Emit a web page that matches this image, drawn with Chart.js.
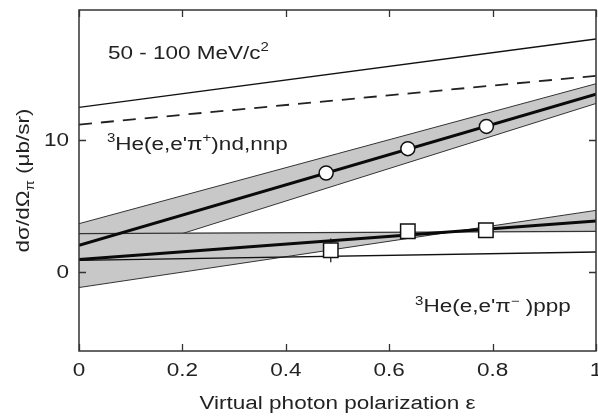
<!DOCTYPE html>
<html>
<head>
<meta charset="utf-8">
<script src="https://cdn.jsdelivr.net/npm/chart.js@4/dist/chart.umd.min.js"></script>
<style>
html,body{margin:0;padding:0;background:#fff;}
canvas{display:block;}
</style>
</head>
<body>
<canvas id="c" width="598" height="417"></canvas>
<script>
// ---- data ----
const lineX = [0, 1];
const topSolid = [12.5, 17.7];
const dashedLine = [11.2, 14.9];
const piPlusFit = [2.03, 13.5];
const piPlusUpper = [3.67, 14.3];
const piPlusLower = [0.45, 12.8];
const piMinusFit = [0.94, 3.87];
const piMinusThin = [0.89, 1.52];
const piMinusEdgeA = [2.92, 3.09];
const piMinusEdgeB = [-1.18, 4.68];
const piPlusX = [0.478, 0.636, 0.788];
const piPlusY = [7.52, 9.37, 11.06];
const piMinusX = [0.487, 0.636, 0.787];
const piMinusY = [1.65, 3.09, 3.17];
const piMinusErr = [0.9, 0.4, 0.4];
const xTicks = [0, 0.2, 0.4, 0.6, 0.8, 1];
const xTickLabels = ['0', '0.2', '0.4', '0.6', '0.8', '1'];
const yTicks = [0, 10];
const yTickLabels = ['0', '10'];
const xTitle = 'Virtual photon polarization \u03b5';
const label1 = [{t:'50 - 100 MeV/c'}, {t:'2', sup:true}];
const label2 = [{t:'3', sup:true}, {t:'He(e,e\'\u03c0'}, {t:'+', sup:true}, {t:')nd,nnp'}];
const label3 = [{t:'3', sup:true}, {t:'He(e,e\'\u03c0'}, {t:'\u2212', sup:true}, {t:' )ppp'}];
const yTitle = [{t:'d\u03c3/d\u03a9'}, {t:'\u03c0', sub:true}, {t:' (\u03bcb/sr)'}];
const labelPos = [[0.056, 16.2], [0.054, 9.3], [0.65, -3.06]];

const pts = (xs, ys) => xs.map((x, i) => ({x, y: ys[i]}));
const FONT = '"Liberation Sans", Arial, Helvetica, sans-serif';
const SX = 1.25;
const INK = '#222';

function lineDs(ys, opts) {
  return Object.assign({
    data: pts(lineX, ys), borderColor: '#111', borderWidth: 1.2,
    pointRadius: 0, fill: false, tension: 0
  }, opts);
}

const errData = [];
piMinusX.forEach((x, i) => {
  errData.push({x, y: piMinusY[i] - piMinusErr[i]});
  errData.push({x, y: piMinusY[i] + piMinusErr[i]});
  errData.push({x: NaN, y: NaN});
});

const datasets = [
  lineDs(piPlusUpper, {order: 10, borderColor: '#333', borderWidth: 1, fill: {target: 1}, backgroundColor: '#c8c8c8'}), // 0
  lineDs(piPlusLower, {order: 9, borderColor: '#333', borderWidth: 1}), // 1
  lineDs(piMinusEdgeA, {order: 8, borderColor: '#333', borderWidth: 1.2, fill: {target: 3}, backgroundColor: '#c8c8c8'}), // 2
  lineDs(piMinusEdgeB, {order: 7, borderColor: '#333', borderWidth: 1}), // 3
  lineDs(piMinusThin, {order: 3, borderColor: '#111', borderWidth: 1.3}),
  lineDs(piMinusFit, {order: 2, borderColor: '#0a0a0a', borderWidth: 3}),
  lineDs(piPlusFit, {order: 2, borderColor: '#0a0a0a', borderWidth: 3}),
  lineDs(topSolid, {order: 2, borderColor: '#111', borderWidth: 1.4}),
  lineDs(dashedLine, {order: 2, borderColor: '#222', borderWidth: 1.8, borderDash: [13, 9]}),
  {data: errData, order: 1, borderColor: '#111', borderWidth: 1.2, pointRadius: 0, spanGaps: false, fill: false},
  {data: pts(piPlusX, piPlusY), order: 0, showLine: false, pointStyle: 'circle', pointRadius: 7,
   pointBackgroundColor: '#fff', pointBorderColor: '#111', pointBorderWidth: 1.5},
  {data: pts(piMinusX, piMinusY), order: 0, showLine: false, pointStyle: 'rect', pointRadius: 10.2,
   pointBackgroundColor: '#fff', pointBorderColor: '#111', pointBorderWidth: 1.5}
];

function drawParts(ctx, parts, x, y, size, rotate) {
  ctx.save();
  ctx.translate(x, y);
  if (rotate) ctx.rotate(-Math.PI / 2);
  ctx.scale(SX, 1);
  ctx.fillStyle = INK;
  ctx.textBaseline = 'alphabetic';
  ctx.textAlign = 'left';
  let cx = 0;
  parts.forEach(p => {
    const s = (p.sup || p.sub) ? Math.round(size * 0.66) : size;
    ctx.font = s + 'px ' + FONT;
    const dy = p.sup ? -size * 0.42 : (p.sub ? size * 0.3 : 0);
    ctx.fillText(p.t, cx, dy);
    cx += ctx.measureText(p.t).width;
  });
  ctx.restore();
}
function partsWidth(ctx, parts, size) {
  let w = 0;
  parts.forEach(p => {
    const s = (p.sup || p.sub) ? Math.round(size * 0.66) : size;
    ctx.font = s + 'px ' + FONT;
    w += ctx.measureText(p.t).width;
  });
  return w * SX;
}

const framePlugin = {
  id: 'frame',
  afterDraw(chart) {
    const ctx = chart.ctx, a = chart.chartArea;
    const xs = chart.scales.x, ys = chart.scales.y;
    ctx.save();
    ctx.strokeStyle = '#333';
    ctx.lineWidth = 1.5;
    ctx.strokeRect(a.left, a.top, a.right - a.left, a.bottom - a.top);
    const TL = 7;
    ctx.lineWidth = 1.3;
    ctx.beginPath();
    xs.ticks.forEach(t => {
      const px = Math.round(xs.getPixelForValue(t.value)) + 0.5;
      ctx.moveTo(px, a.bottom); ctx.lineTo(px, a.bottom - TL);
      ctx.moveTo(px, a.top); ctx.lineTo(px, a.top + TL);
    });
    ys.ticks.forEach(t => {
      const py = Math.round(ys.getPixelForValue(t.value)) + 0.5;
      ctx.moveTo(a.left, py); ctx.lineTo(a.left + TL, py);
      ctx.moveTo(a.right, py); ctx.lineTo(a.right - TL, py);
    });
    ctx.stroke();
    // tick labels
    ctx.fillStyle = INK;
    ctx.font = '18px ' + FONT;
    ctx.textBaseline = 'middle';
    xs.ticks.forEach((t, i) => {
      const px = xs.getPixelForValue(t.value);
      ctx.save(); ctx.translate(px, a.bottom + 20); ctx.scale(SX, 1);
      ctx.textAlign = 'center'; ctx.fillText(xTickLabels[i], 0, 0); ctx.restore();
    });
    ys.ticks.forEach((t, i) => {
      const py = ys.getPixelForValue(t.value);
      ctx.save(); ctx.translate(a.left - 10, py + 1); ctx.scale(SX, 1);
      ctx.textAlign = 'right'; ctx.fillText(yTickLabels[i], 0, 0); ctx.restore();
    });
    // x title
    ctx.save(); ctx.translate((a.left + a.right) / 2, 404); ctx.scale(SX, 1);
    ctx.textAlign = 'center'; ctx.fillText(xTitle, 0, 0); ctx.restore();
    // y title (rotated)
    const yw = partsWidth(ctx, yTitle, 18);
    drawParts(ctx, yTitle, 29, (a.top + a.bottom) / 2 + yw / 2, 18, true);
    // annotations
    [label1, label2, label3].forEach((lab, i) => {
      drawParts(ctx, lab, xs.getPixelForValue(labelPos[i][0]), ys.getPixelForValue(labelPos[i][1]), 18, false);
    });
    ctx.restore();
  }
};

new Chart(document.getElementById('c'), {
  type: 'line',
  data: {datasets},
  options: {
    responsive: false,
    animation: false,
    layout: {autoPadding: false, padding: {top: 10, right: 2, left: 0, bottom: 0}},
    plugins: {
      legend: {display: false},
      tooltip: {enabled: false},
      filler: {drawTime: 'beforeDatasetDraw'}
    },
    scales: {
      x: {
        type: 'linear', min: 0, max: 1,
        afterBuildTicks: s => { s.ticks = xTicks.map(v => ({value: v})); },
        afterFit: s => { s.height = 66; },
        grid: {display: false, drawTicks: false},
        border: {display: false},
        ticks: {display: false}
      },
      y: {
        type: 'linear', min: -6, max: 19.9,
        afterBuildTicks: s => { s.ticks = yTicks.map(v => ({value: v})); },
        afterFit: s => { s.width = 79; },
        grid: {display: false, drawTicks: false},
        border: {display: false},
        ticks: {display: false}
      }
    }
  },
  plugins: [framePlugin]
});
</script>
</body>
</html>
